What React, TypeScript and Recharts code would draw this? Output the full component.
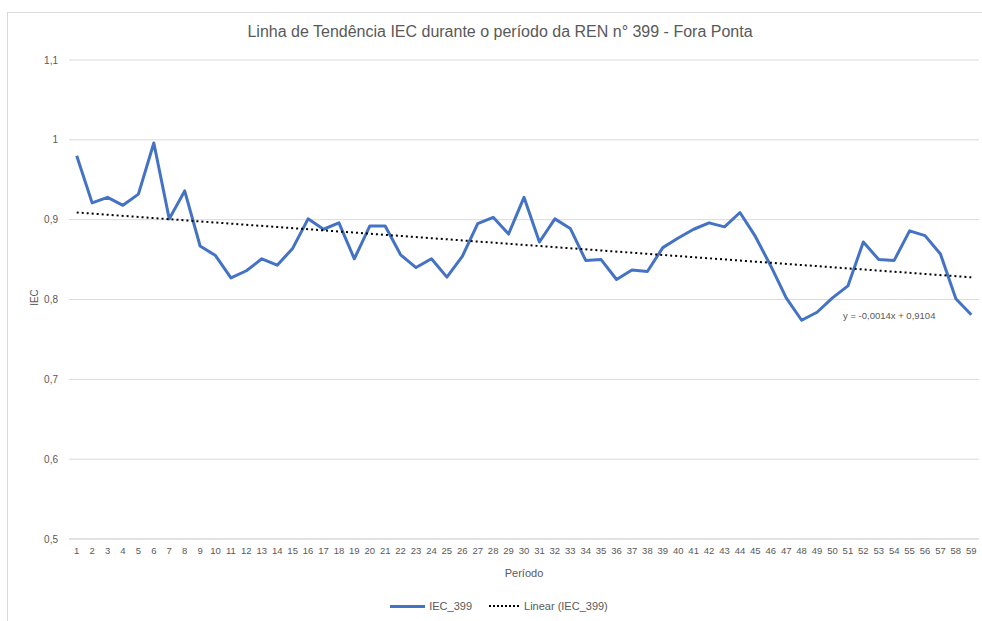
import React from 'react';
import { LineChart, Line, XAxis, YAxis, CartesianGrid } from 'recharts';

// period numbers on the x axis
const periods = [
  1, 2, 3, 4, 5, 6, 7, 8, 9, 10, 11, 12, 13, 14, 15, 16, 17, 18, 19, 20,
  21, 22, 23, 24, 25, 26, 27, 28, 29, 30, 31, 32, 33, 34, 35, 36, 37, 38, 39, 40,
  41, 42, 43, 44, 45, 46, 47, 48, 49, 50, 51, 52, 53, 54, 55, 56, 57, 58, 59
];

// IEC_399 values
const iecValues = [
  0.98, 0.921, 0.928, 0.918, 0.932, 0.996, 0.901, 0.936, 0.867, 0.855,
  0.827, 0.836, 0.851, 0.843, 0.864, 0.901, 0.888, 0.896, 0.851, 0.892,
  0.892, 0.856, 0.84, 0.851, 0.828, 0.854, 0.895, 0.903, 0.882, 0.928,
  0.872, 0.901, 0.889, 0.849, 0.85, 0.825, 0.837, 0.835, 0.865, 0.877,
  0.888, 0.896, 0.891, 0.909, 0.879, 0.842, 0.802, 0.774, 0.784, 0.802,
  0.817, 0.872, 0.85, 0.849, 0.886, 0.88, 0.857, 0.801, 0.781
];

// linear trend line end points (first and last period)
const trendStart = 0.909;
const trendEnd = 0.8278;

const yTicks = [0.5, 0.6, 0.7, 0.8, 0.9, 1.0, 1.1];

const chartData = periods.map((p, i) => ({
  period: p,
  iec: iecValues[i],
  trend: i === 0 ? trendStart : i === periods.length - 1 ? trendEnd : null
}));

const FONT = '"Liberation Sans", Arial, sans-serif';
const GRAY = '#595959';

const fmt = (v: number) => String(+v.toFixed(1)).replace('.', ',');

export default function App() {
  return (
    <div
      style={{
        position: 'absolute',
        left: 0,
        top: 0,
        width: 982,
        height: 621,
        overflow: 'hidden',
        background: '#fff',
        fontFamily: FONT,
        color: GRAY
      }}
    >
      {/* chart area frame, runs off the right and bottom edges */}
      <div
        style={{
          position: 'absolute',
          left: 7,
          top: 12,
          width: 1000,
          height: 640,
          border: '1px solid #d9d9d9'
        }}
      />

      <div
        style={{
          position: 'absolute',
          left: 0,
          width: 1000,
          top: 23,
          textAlign: 'center',
          fontSize: 16,
          color: GRAY
        }}
      >
        Linha de Tendência IEC durante o período da REN n° 399 - Fora Ponta
      </div>

      <div style={{ position: 'absolute', left: 0, top: 0 }}>
        <LineChart
          width={982}
          height={621}
          data={chartData}
          margin={{ top: 60, right: 3, bottom: 52, left: 0 }}
        >
          <CartesianGrid vertical={false} stroke="#d9d9d9" />
          <XAxis
            dataKey="period"
            type="number"
            domain={[0.5, 59.5]}
            ticks={periods}
            interval={0}
            height={30}
            tickLine={false}
            axisLine={{ stroke: '#d9d9d9' }}
            tick={{ fill: GRAY, fontSize: 9.5, fontFamily: FONT }}
          />
          <YAxis
            type="number"
            domain={[0.5, 1.1]}
            ticks={yTicks}
            width={69}
            tickLine={false}
            axisLine={false}
            tickMargin={5}
            tickFormatter={fmt}
            tick={{ fill: GRAY, fontSize: 10, fontFamily: FONT }}
          />
          <Line
            type="linear"
            dataKey="iec"
            stroke="#4472c4"
            strokeWidth={3}
            dot={false}
            isAnimationActive={false}
            strokeLinejoin="round"
          />
          <Line
            type="linear"
            dataKey="trend"
            stroke="#000"
            strokeWidth={2}
            strokeDasharray="2 3"
            dot={false}
            connectNulls
            isAnimationActive={false}
          />
        </LineChart>
      </div>

      <div
        style={{
          position: 'absolute',
          left: 26,
          top: 292,
          fontSize: 10,
          transform: 'rotate(-90deg)',
          transformOrigin: 'center'
        }}
      >
        IEC
      </div>

      <div style={{ position: 'absolute', left: 0, width: 1048, top: 567, textAlign: 'center', fontSize: 11 }}>
        Período
      </div>

      <div style={{ position: 'absolute', left: 843, top: 310, fontSize: 9.5 }}>
        y = -0,0014x + 0,9104
      </div>

      <div
        style={{
          position: 'absolute',
          left: 8,
          width: 982,
          top: 600,
          display: 'flex',
          justifyContent: 'center',
          alignItems: 'center',
          fontSize: 11
        }}
      >
        <span style={{ display: 'inline-block', width: 35, height: 0, borderTop: '3px solid #4472c4', marginRight: 4 }} />
        <span>IEC_399</span>
        <span
          style={{
            display: 'inline-block',
            width: 30,
            height: 0,
            borderTop: '2px dotted #000',
            marginLeft: 17,
            marginRight: 5
          }}
        />
        <span>Linear (IEC_399)</span>
      </div>
    </div>
  );
}
